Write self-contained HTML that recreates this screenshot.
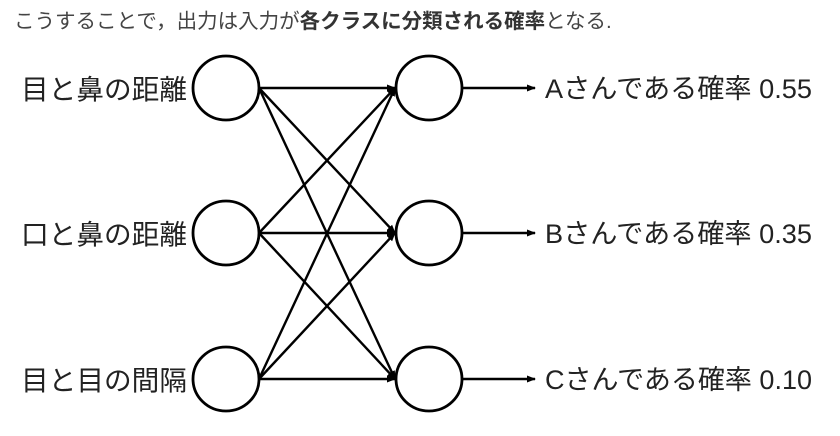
<!DOCTYPE html>
<html><head><meta charset="utf-8"><style>
body{margin:0;background:#fff;width:840px;height:436px;overflow:hidden;font-family:"Liberation Sans","Noto Sans CJK JP",sans-serif}
.h{position:absolute;left:14px;top:4px;font-size:20.5px;color:#444;white-space:nowrap}
.h b{color:#333}
</style></head><body>
<div class="h">こうすることで，出力は入力が<b>各クラスに分類される確率</b>となる.</div>
<svg width="840" height="436" style="position:absolute;left:0;top:0">
<defs><marker id="a" markerWidth="9" markerHeight="8" refX="8" refY="4" orient="auto" markerUnits="userSpaceOnUse"><path d="M0,0.5 L9,4 L0,7.5z" fill="#000"/></marker></defs>
<g stroke="#000" stroke-width="2.4" fill="none">
<line x1="259" y1="88" x2="395" y2="88" marker-end="url(#a)"/>
<line x1="259" y1="88" x2="395" y2="233" marker-end="url(#a)"/>
<line x1="259" y1="88" x2="395" y2="379" marker-end="url(#a)"/>
<line x1="259" y1="233" x2="395" y2="88" marker-end="url(#a)"/>
<line x1="259" y1="233" x2="395" y2="233" marker-end="url(#a)"/>
<line x1="259" y1="233" x2="395" y2="379" marker-end="url(#a)"/>
<line x1="259" y1="379" x2="395" y2="88" marker-end="url(#a)"/>
<line x1="259" y1="379" x2="395" y2="233" marker-end="url(#a)"/>
<line x1="259" y1="379" x2="395" y2="379" marker-end="url(#a)"/>
<line x1="462" y1="88" x2="535" y2="88" marker-end="url(#a)"/>
<line x1="462" y1="233" x2="535" y2="233" marker-end="url(#a)"/>
<line x1="462" y1="379" x2="535" y2="379" marker-end="url(#a)"/>
<g fill="#fff" stroke-width="2.8">
<ellipse cx="226" cy="88" rx="33" ry="32"/><ellipse cx="226" cy="233" rx="33" ry="32"/><ellipse cx="226" cy="379" rx="33" ry="32"/>
<ellipse cx="429" cy="88" rx="33" ry="32"/><ellipse cx="429" cy="233" rx="33" ry="32"/><ellipse cx="429" cy="379" rx="33" ry="32"/>
</g></g>
<g font-family="Liberation Sans,Noto Sans CJK JP,sans-serif" fill="#222">
<text x="21" y="99" font-size="27.5" textLength="166" lengthAdjust="spacingAndGlyphs">目と鼻の距離</text>
<text x="21" y="244" font-size="27.5" textLength="166" lengthAdjust="spacingAndGlyphs">口と鼻の距離</text>
<text x="21" y="390" font-size="27.5" textLength="166" lengthAdjust="spacingAndGlyphs">目と目の間隔</text>
<g font-size="27">
<text x="545" y="98" textLength="267" lengthAdjust="spacingAndGlyphs">Aさんである確率 0.55</text>
<text x="545" y="243" textLength="267" lengthAdjust="spacingAndGlyphs">Bさんである確率 0.35</text>
<text x="545" y="389" textLength="267" lengthAdjust="spacingAndGlyphs">Cさんである確率 0.10</text>
</g></g>
</svg>
</body></html>
